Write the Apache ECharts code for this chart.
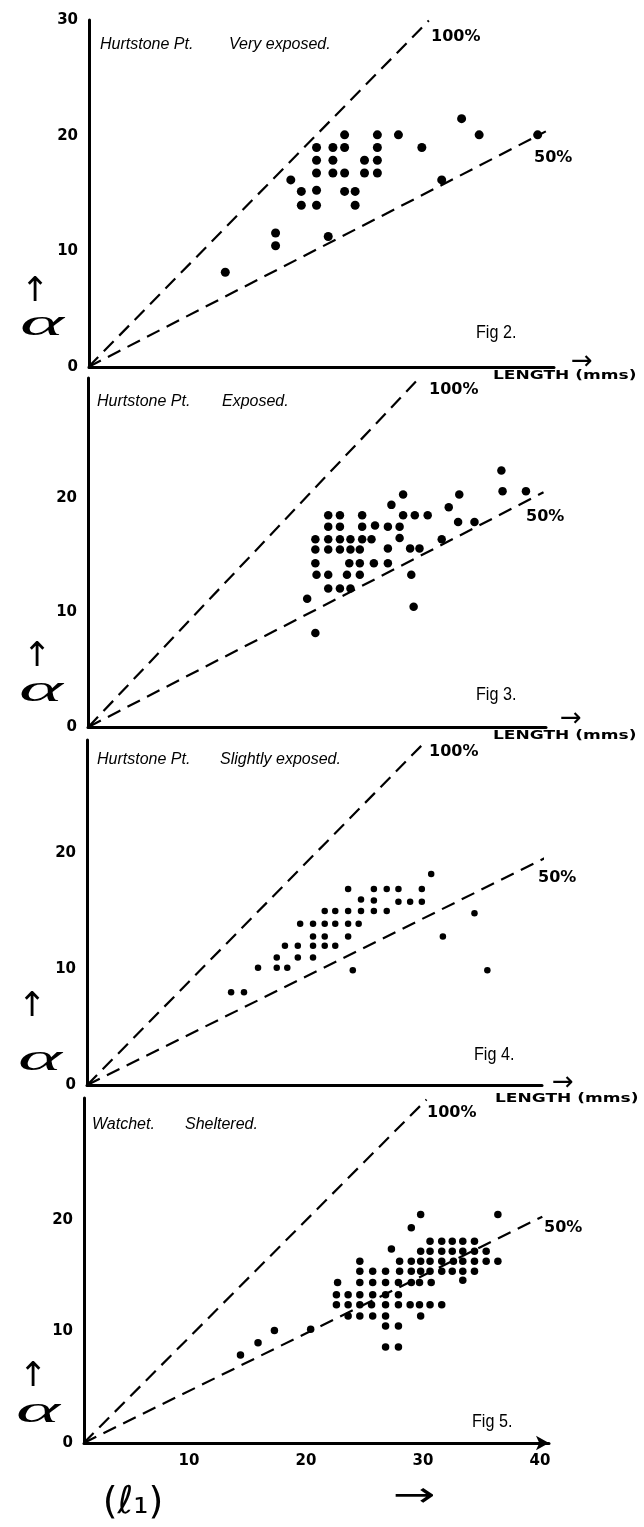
<!DOCTYPE html>
<html><head><meta charset="utf-8">
<script src="https://cdn.jsdelivr.net/npm/echarts@6/dist/echarts.min.js"></script>
<style>html,body{margin:0;padding:0;background:#fff}#c{width:644px;height:1527px}</style>
</head><body><div id="c"></div>
<script>
// ---------------- DATA (length in mm, alpha) ----------------
const fig2Points = [
  [13.1,8.2],[17.4,11.6],[17.4,10.5],[18.7,16.2],[19.6,15.2],[19.6,14.0],
  [20.9,19.0],[20.9,17.9],[20.9,16.8],[20.9,15.3],[20.9,14.0],[21.9,11.3],
  [22.3,19.0],[22.3,17.9],[22.3,16.8],
  [23.3,20.1],[23.3,19.0],[23.3,16.8],[23.3,15.2],[24.2,15.2],[24.2,14.0],
  [25.0,17.9],[25.0,16.8],
  [26.1,20.1],[26.1,19.0],[26.1,17.9],[26.1,16.8],
  [27.9,20.1],[29.9,19.0],[31.6,16.2],[33.3,21.5],[34.8,20.1],[39.8,20.1]
];
const fig3Points = [
  [36.7,22.4],
  [28.3,20.3],[33.1,20.3],[36.8,20.6],[38.8,20.6],
  [27.3,19.4],[32.2,19.2],
  [21.9,18.5],[22.9,18.5],[24.8,18.5],[28.3,18.5],[29.3,18.5],[30.4,18.5],
  [21.9,17.5],[22.9,17.5],[24.8,17.5],[25.9,17.6],[27.0,17.5],[28.0,17.5],[33.0,17.9],[34.4,17.9],
  [20.8,16.4],[21.9,16.4],[22.9,16.4],[23.8,16.4],[24.8,16.4],[25.6,16.4],[28.0,16.5],[31.6,16.4],
  [20.8,15.5],[21.9,15.5],[22.9,15.5],[23.8,15.5],[24.6,15.5],[27.0,15.6],[28.9,15.6],[29.7,15.6],
  [20.8,14.3],[23.7,14.3],[24.6,14.3],[25.8,14.3],[27.0,14.3],
  [20.9,13.3],[21.9,13.3],[23.5,13.3],[24.6,13.3],[29.0,13.3],
  [21.9,12.1],[22.9,12.1],[23.8,12.1],
  [20.1,11.2],[29.2,10.5],[20.8,8.2]
];
const fig4Points = [
  [30.7,18.2],
  [23.6,16.9],[25.8,16.9],[26.9,16.9],[27.9,16.9],[29.9,16.9],
  [24.7,16.0],[25.8,15.9],[27.9,15.8],[28.9,15.8],[29.9,15.8],
  [21.6,15.0],[22.5,15.0],[23.6,15.0],[24.7,15.0],[25.8,15.0],[26.9,15.0],
  [19.5,13.9],[20.6,13.9],[21.6,13.9],[22.5,13.9],[23.6,13.9],[24.5,13.9],
  [34.4,14.8],
  [20.6,12.8],[21.6,12.8],[23.6,12.8],[31.7,12.8],
  [18.2,12.0],[19.3,12.0],[20.6,12.0],[21.6,12.0],[22.5,12.0],
  [17.5,11.0],[19.3,11.0],[20.6,11.0],
  [15.9,10.1],[17.5,10.1],[18.4,10.1],[24.0,9.9],[35.5,9.9],
  [13.6,8.0],[14.7,8.0]
];
const fig5Points = [
  [29.8,20.5],[36.4,20.5],
  [29.0,19.3],
  [30.6,18.1],[31.6,18.1],[32.5,18.1],[33.4,18.1],[34.4,18.1],
  [27.3,17.4],[29.8,17.2],[30.6,17.2],[31.6,17.2],[32.5,17.2],[33.4,17.2],[34.4,17.2],[35.4,17.2],
  [24.6,16.3],[28.0,16.3],[29.0,16.3],[29.8,16.3],[30.6,16.3],[31.6,16.3],[32.6,16.3],[33.4,16.3],[34.4,16.3],[35.4,16.3],[36.4,16.3],
  [24.6,15.4],[25.7,15.4],[26.8,15.4],[28.0,15.4],[29.0,15.4],[29.8,15.4],[30.6,15.4],[31.6,15.4],[32.5,15.4],[33.4,15.4],[34.4,15.4],
  [22.7,14.4],[24.6,14.4],[25.7,14.4],[26.8,14.4],[27.9,14.4],[29.0,14.4],[29.7,14.4],[30.7,14.4],[33.4,14.6],
  [22.6,13.3],[23.6,13.3],[24.6,13.3],[25.7,13.3],[26.8,13.3],[27.9,13.3],
  [22.6,12.4],[23.6,12.4],[24.6,12.4],[25.6,12.4],[26.8,12.4],[27.9,12.4],[28.9,12.4],[29.7,12.4],[30.6,12.4],[31.6,12.4],
  [23.6,11.4],[24.6,11.4],[25.7,11.4],[26.8,11.4],[29.8,11.4],
  [26.8,10.5],[27.9,10.5],
  [26.8,8.6],[27.9,8.6],
  [14.4,7.9],[15.9,9.0],[17.3,10.1],[20.4,10.2]
];
// reference lines (100% and 50%) per figure
const fig2Line100 = [[1.4,0],[30.5,30.0]];
const fig2Line50  = [[1.4,0],[40.5,20.4]];
const fig3Line100 = [[1.4,0],[29.7,30.5]];
const fig3Line50  = [[1.4,0],[40.3,20.5]];
const fig4Line100 = [[1.3,0],[30.3,29.7]];
const fig4Line50  = [[1.3,0],[40.5,19.6]];
const fig5Line100 = [[1.0,0],[30.3,30.8]];
const fig5Line50  = [[1.0,0],[40.2,20.3]];
// tick labels
const xTickValues = [10,20,30,40];
const yTickValuesFig2 = [0,10,20,30];
const yTickValues = [0,10,20];
// texts
const siteNames = ["Hurtstone Pt.","Hurtstone Pt.","Hurtstone Pt.","Watchet."];
const exposures = ["Very exposed.","Exposed.","Slightly exposed.","Sheltered."];
const figNames = ["Fig 2.","Fig 3.","Fig 4.","Fig 5."];
const lineNames = ["100%","50%"];
const xAxisName = "LENGTH (mms)";
const yAxisSymbol = "α";
const xSymbol = "(ℓ₁)";

// ---------------- LAYOUT ----------------
const X0 = 72, XS = 11.7; // pixel of length 0, px per mm
const panels = [
  {L:89, R:554, T:20,   B:367,  ys:11.55, dot:9,
   site:[100,45], exp:[229,45], fig:[476,333], p100:[431,37], p50:[534,158],
   arrowUp:[35,292], alpha:[42,325], len:[493,376], lenArrow:[582,362]},
  {L:88, R:546, T:378,  B:727,  ys:11.45, dot:8.5,
   site:[97,402], exp:[222,402], fig:[476,695], p100:[429,390], p50:[526,517],
   arrowUp:[37,657], alpha:[41,691], len:[493,736], lenArrow:[571,719]},
  {L:87, R:542, T:740,  B:1085, ys:11.6, dot:6.5,
   site:[97,760], exp:[220,760], fig:[474,1055], p100:[429,752], p50:[538,878],
   arrowUp:[32,1007], alpha:[40,1060], len:[495,1099], lenArrow:[563,1083]},
  {L:84, R:549, T:1098, B:1443, ys:11.15, dot:7.5,
   site:[92,1125], exp:[185,1125], fig:[472,1422], p100:[427,1113], p50:[544,1228],
   arrowUp:[33,1377], alpha:[38,1412], len:null, lenArrow:null}
];
const pointSets = [fig2Points, fig3Points, fig4Points, fig5Points];
const lines100 = [fig2Line100, fig3Line100, fig4Line100, fig5Line100];
const lines50 = [fig2Line50, fig3Line50, fig4Line50, fig5Line50];

const grids = [], xAxes = [], yAxes = [], series = [], graphics = [];
const tickFont = {color:'#000', fontFamily:'"DejaVu Sans"', fontWeight:'bold', fontSize:15};

panels.forEach((p, i) => {
  grids.push({left:p.L, top:p.T, width:p.R - p.L, height:p.B - p.T, containLabel:false, outerBoundsMode:'none'});
  const last = i === panels.length - 1;
  xAxes.push({
    type:'value', gridIndex:i, min:(p.L - X0)/XS, max:(p.R - X0)/XS,
    axisLine:{show:true, onZero:false, lineStyle:{color:'#000', width:3},
      symbol: last ? ['none','arrow'] : ['none','none'], symbolSize:[11,13]},
    axisTick:{show:false}, splitLine:{show:false},
    axisLabel: last ? Object.assign({show:true, customValues:xTickValues, margin:11}, tickFont) : {show:false}
  });
  yAxes.push({
    type:'value', gridIndex:i, min:0, max:(p.B - p.T)/p.ys,
    axisLine:{show:true, onZero:false, lineStyle:{color:'#000', width:3}},
    axisTick:{show:false}, splitLine:{show:false},
    axisLabel: Object.assign({show:true, customValues: i === 0 ? yTickValuesFig2 : yTickValues, margin:11,
      showMaxLabel:true}, tickFont)
  });
  series.push({type:'scatter', xAxisIndex:i, yAxisIndex:i, data:pointSets[i], symbol:'circle',
    symbolSize:p.dot, itemStyle:{color:'#000', opacity:1}, silent:true, z:3});
  [lines100[i], lines50[i]].forEach(ld => series.push({
    type:'line', xAxisIndex:i, yAxisIndex:i, data:ld, showSymbol:false, clip:false, silent:true,
    lineStyle:{color:'#000', width:2.2, type:[14,8]}, z:2
  }));

  const txt = (x, y, text, font, extra) => graphics.push(Object.assign({
    type:'text', x:x, y:y, silent:true,
    style:Object.assign({text:text, font:font, fill:'#000', align:'left', verticalAlign:'middle',
      textAlign:'left', textVerticalAlign:'middle'}, extra && extra.style || {})
  }, extra && extra.el || {}));

  txt(p.site[0], p.site[1], siteNames[i], 'italic 16px "Liberation Sans"');
  txt(p.exp[0], p.exp[1], exposures[i], 'italic 16px "Liberation Sans"');
  txt(p.fig[0], p.fig[1], figNames[i], '19px "Liberation Sans"', {el:{scaleX:0.85}});
  txt(p.p100[0], p.p100[1], lineNames[0], 'bold 16px "DejaVu Sans"');
  txt(p.p50[0], p.p50[1], lineNames[1], 'bold 16px "DejaVu Sans"');
  txt(p.arrowUp[0], p.arrowUp[1], '↑', '34px "DejaVu Sans"', {style:{align:'center', textAlign:'center'}});
  txt(p.alpha[0], p.alpha[1], yAxisSymbol, 'italic 44px "Liberation Serif"',
      {style:{align:'center', textAlign:'center'}, el:{scaleX:1.9, scaleY:0.85}});
  if (p.len) {
    txt(p.len[0], p.len[1], xAxisName, 'bold 12px "DejaVu Sans"', {el:{scaleX:1.42}});
    txt(p.lenArrow[0], p.lenArrow[1], '→', '26px "DejaVu Sans"', {style:{align:'center', textAlign:'center'}});
  }
});
graphics.push({type:'text', x:133, y:1503, silent:true,
  style:{text:xSymbol, font:'38px "DejaVu Sans"', fill:'#000', align:'center', verticalAlign:'middle',
         textAlign:'center', textVerticalAlign:'middle'}});
graphics.push({type:'text', x:414, y:1497, silent:true, scaleX:1.5,
  style:{text:'→', font:'34px "DejaVu Sans"', fill:'#000', align:'center', verticalAlign:'middle',
         textAlign:'center', textVerticalAlign:'middle'}});

const chart = echarts.init(document.getElementById('c'), null, {renderer:'canvas'});
chart.setOption({
  animation:false, backgroundColor:'#fff',
  grid:grids, xAxis:xAxes, yAxis:yAxes, series:series, graphic:{elements:graphics}
});
</script></body></html>
